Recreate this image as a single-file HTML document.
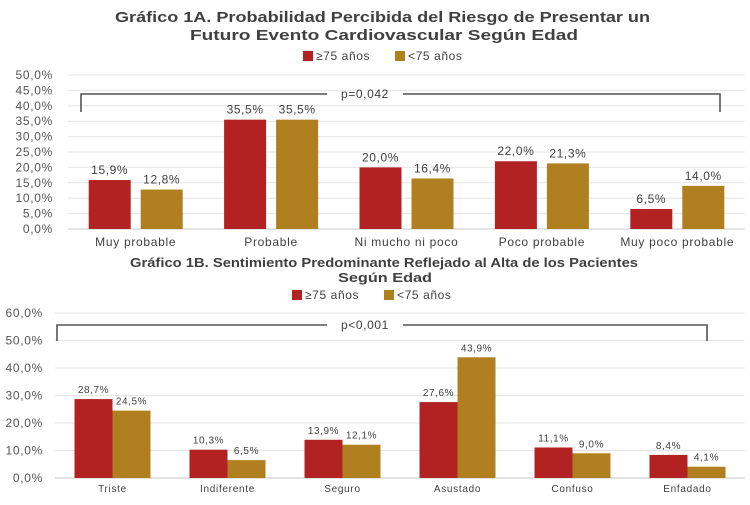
<!DOCTYPE html>
<html><head><meta charset="utf-8"><style>
body{margin:0;background:#fff;}
svg text{font-family:"Liberation Sans",sans-serif;}
</style></head><body>
<svg width="750" height="500" xmlns="http://www.w3.org/2000/svg">
<g id="chartA"></g>
<g id="chartB"></g>
</svg>
<script>
const catsA=["Muy probable","Probable","Ni mucho ni poco","Poco probable","Muy poco probable"];
const oldA=[15.9,35.5,20.0,22.0,6.5];
const youngA=[12.8,35.5,16.4,21.3,14.0];
const ticksA=[0,5,10,15,20,25,30,35,40,45,50];
const catsB=["Triste","Indiferente","Seguro","Asustado","Confuso","Enfadado"];
const oldB=[28.7,10.3,13.9,27.6,11.1,8.4];
const youngB=[24.5,6.5,12.1,43.9,9.0,4.1];
const ticksB=[0,10,20,30,40,50,60];
const RED="#b22222",GOLD="#b08020";
const NS="http://www.w3.org/2000/svg";
function mk(p,t,a,txt){const e=document.createElementNS(NS,t);for(const k in a)e.setAttribute(k,a[k]);if(txt!==undefined)e.textContent=txt;p.appendChild(e);return e;}
function fmt(v){return v.toFixed(1).replace('.',',')+'%';}
function draw(g,o){
  const y=v=>o.y0-(v/o.max)*(o.y0-o.yTop);
  const step=(o.x1-o.x0)/o.cats.length;
  o.titles.forEach((t,i)=>{const e=mk(g,'text',{x:o.tx[i],y:o.ty+i*o.tdy,'font-size':o.tfs,'font-weight':'bold',fill:'#404040',textLength:o.tw[i],lengthAdjust:'spacingAndGlyphs'},t);
    });
  const lg=mk(g,'g',{});
  mk(lg,'rect',{x:o.lx,y:o.ly-9,width:10,height:10,fill:RED});
  mk(lg,'text',{x:o.lx+13,y:o.ly,'font-size':o.lfs,fill:'#404040','letter-spacing':0.6},'≥75 años');
  mk(lg,'rect',{x:o.lx+92,y:o.ly-9,width:10,height:10,fill:GOLD});
  mk(lg,'text',{x:o.lx+105,y:o.ly,'font-size':o.lfs,fill:'#404040','letter-spacing':0.6},'<75 años');
  o.ticks.forEach(t=>{
    mk(g,'line',{x1:o.x0,x2:o.x1,y1:y(t),y2:y(t),stroke:t===0?'#c8c8c8':'#e4e4e4','stroke-width':1});
    const e=mk(g,'text',{x:o.x0-o.yoff,y:y(t)+4,'text-anchor':'end','font-size':12,fill:'#555','letter-spacing':0.7},fmt(t));
    
  });
  o.cats.forEach((c,i)=>{
    const cx=o.x0+step*(i+0.5);
    const xs=[cx-o.gap/2-o.bw,cx+o.gap/2];
    [[o.a,RED],[o.b,GOLD]].forEach(([arr,col],k)=>{
      const v=arr[i];
      const r=mk(g,'rect',{x:xs[k],y:y(v),width:o.bw,height:y(0)-y(v),fill:col});
      
      
      const t=mk(g,'text',{x:xs[k]+o.bw/2,y:y(v)-6,'text-anchor':'middle','font-size':o.vfs,fill:'#404040','letter-spacing':0.6},fmt(v));
      
    });
    const l=mk(g,'text',{x:cx,y:o.xly,'text-anchor':'middle','font-size':o.xfs,fill:'#404040','letter-spacing':0.7},c);
    
  });
  const b=o.br;
  const p=mk(g,'path',{d:`M${b.l},${b.b} L${b.l},${b.t} L${b.tx-38},${b.t} M${b.tx+38},${b.t} L${b.r},${b.t} L${b.r},${b.b}`,fill:'none',stroke:'#555','stroke-width':1.6});
  
  const pt=mk(g,'text',{x:b.tx,y:b.t+4,'text-anchor':'middle','font-size':12,fill:'#404040','letter-spacing':0.6},b.txt);
  
}
draw(document.getElementById('chartA'),{cats:catsA,a:oldA,b:youngA,ticks:ticksA,max:50,y0:229,yTop:75,x0:68,x1:745,bw:42,gap:10,yoff:15,
  titles:["Gráfico 1A. Probabilidad Percibida del Riesgo de Presentar un","Futuro Evento Cardiovascular Según Edad"],tx:[115,190],tw:[535,388],ty:22,tdy:18,tfs:15,
  lx:303,ly:60,lfs:12,vfs:12,xfs:12,xly:246,br:{l:81,r:720,t:94,b:112,tx:365,txt:'p=0,042'}});
draw(document.getElementById('chartB'),{cats:catsB,a:oldB,b:youngB,ticks:ticksB,max:60,y0:478,yTop:313,x0:55,x1:745,bw:38,gap:0,yoff:12,
  titles:["Gráfico 1B. Sentimiento Predominante Reflejado al Alta de los Pacientes","Según Edad"],tx:[130,338],tw:[508,94],ty:267,tdy:15,tfs:13,
  lx:292,ly:299,lfs:12,vfs:10,xfs:10,xly:492,br:{l:57,r:707,t:325,b:341,tx:365,txt:'p<0,001'}});
</script>
</body></html>
